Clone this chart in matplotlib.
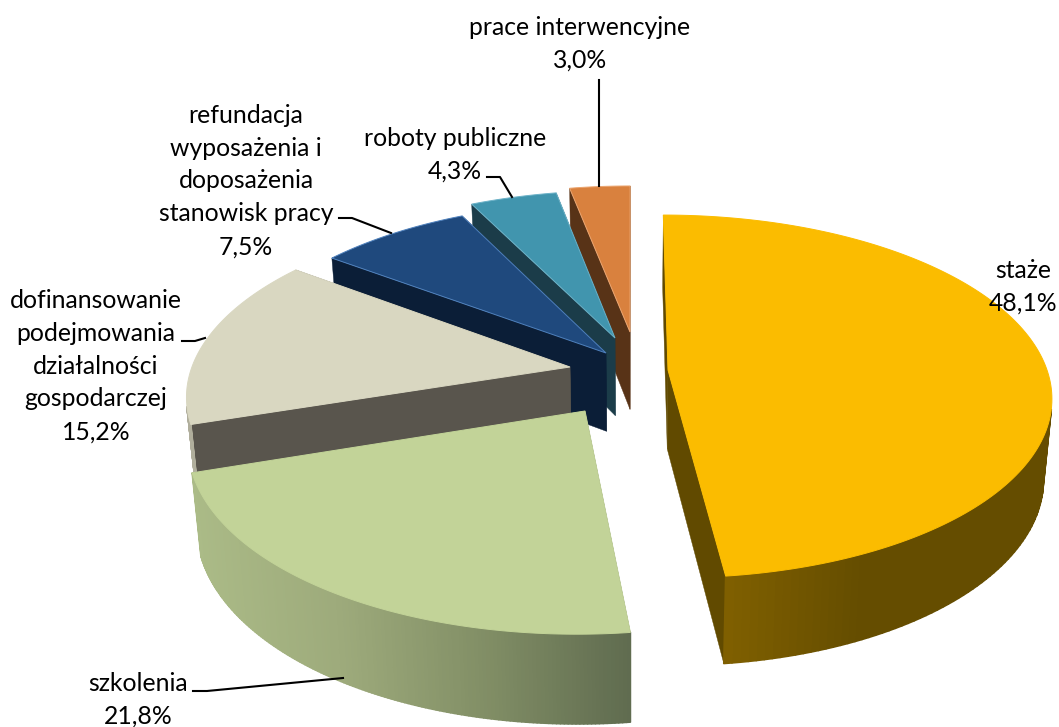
import numpy as np
from matplotlib import pyplot as plt
from matplotlib.collections import PolyCollection
from matplotlib.colors import to_rgb

# order as in the chart, clockwise from 12 o'clock
names = ["staże", "szkolenia", "dofinansowanie\npodejmowania\ndziałalności\ngospodarczej",
         "refundacja\nwyposażenia i\ndoposażenia\nstanowisk pracy", "roboty publiczne", "prace interwencyjne"]
shares = [48.1, 21.8, 15.2, 7.5, 4.3, 3.0]

top_colors = ["#FBBC00", "#C2D398", "#D9D7C1", "#1F497D", "#4195AE", "#D9813E"]
side_colors = ["#614A00", "#5F6B4F", "#59554D", "#0B1E37", "#1B3C49", "#583317"]
edge_colors = ["#FBBC00", "#C2D398", "#D9D7C1", "#4F81BD", "#6CB2C8", "#EBA46E"]
# outer wall colours: (screen x, colour)
wall_stops = [
    [(725, "#806000"), (860, "#654D00"), (1060, "#654D00")],
    [(190, "#ABBB87"), (340, "#9DAA7B"), (480, "#828F66"), (632, "#5F6B4F")],
    [(180, "#B0AE9C"), (620, "#B0AE9C")],
    [(320, "#0B1E37"), (620, "#0B1E37")],
    [(460, "#1B3C49"), (620, "#1B3C49")],
    [(560, "#583317"), (640, "#583317")],
]

# pixel position of each slice's tip after pulling it out of the pie
tip_x = [668, 585, 570, 606, 615, 630]
tip_y = [370, 411, 367, 353, 338, 332]

# camera of the tilted pie
cx, cy = 631, 370
A, B, k = 379, 177.5, 0.1455
depth = 79


def project(X, Y):
    s = 1 / (1 + k * Y)
    return cx + A * X * s, cy - B * Y * s, s


def unproject(x, y):
    t = (cy - y) / B
    Y = t / (1 - k * t)
    s = 1 / (1 + k * Y)
    return (x - cx) / (A * s), Y


def drop(x, y, s):
    return cx + (x - cx) * 0.98, y + depth * s ** 0.65


fig = plt.figure(figsize=(10.59, 7.27), dpi=100)
ax = fig.add_axes([0, 0, 1, 1])
ax.set_xlim(0, 1059)
ax.set_ylim(727, 0)
ax.axis("off")

total = sum(shares)
edges = np.cumsum([0] + shares) / total * 360

# back slices first so the front ones cover them
for i in [5, 4, 3, 2, 1, 0]:
    X0, Y0 = unproject(tip_x[i], tip_y[i])
    th = np.radians(np.linspace(edges[i], edges[i + 1], 160))
    x, y, s = project(X0 + np.sin(th), Y0 + np.cos(th))
    xb, yb = drop(x, y, s)
    xt, yt, st = project(X0, Y0)
    xtb, ytb = drop(xt, yt, st)

    # the two flat cut faces
    for j in [0, -1]:
        ax.fill([xt, x[j], xb[j], xtb], [yt, y[j], yb[j], ytb], color=side_colors[i], lw=0.3, zorder=i * -10)

    # outer wall, strips so that the shade can change with x; only the part turned to the viewer
    stops_x = [p[0] for p in wall_stops[i]]
    stops_c = np.array([to_rgb(p[1]) for p in wall_stops[i]])
    quads = []
    cols = []
    for n in range(len(th) - 1):
        cross = (x[n + 1] - x[n]) * (yb[n] - y[n]) - (y[n + 1] - y[n]) * (xb[n] - x[n])
        if cross >= 0:
            continue
        quads.append([(x[n], y[n]), (x[n + 1], y[n + 1]), (xb[n + 1], yb[n + 1]), (xb[n], yb[n])])
        mid = (x[n] + x[n + 1]) / 2
        cols.append([np.interp(mid, stops_x, stops_c[:, c]) for c in range(3)])
    ax.add_collection(PolyCollection(quads, facecolors=cols, edgecolors=cols, linewidths=1.2, zorder=i * -10 + 1))

    ax.fill(np.r_[xt, x], np.r_[yt, y], facecolor=top_colors[i], edgecolor=edge_colors[i], lw=0.7, zorder=i * -10 + 2)

# labels
label_x = [1023, 138, 96, 246, 455, 580]
label_y = [287, 700, 366, 181, 155, 44]
for i in range(len(names)):
    value = f"{shares[i]:.1f}%".replace(".", ",")
    ax.text(label_x[i], label_y[i], names[i] + "\n" + value, ha="center", va="center", fontsize=17.8,
            family="Lato", color="black", linespacing=1.52, zorder=5)

# leader lines
leaders = [
    ([193, 207, 343], [691, 691, 678]),
    ([182, 195, 205], [341, 341, 338]),
    ([339, 352, 391], [218, 218, 233]),
    ([487, 500, 512], [177, 177, 197]),
    ([599, 599], [80, 186]),
]
for lx, ly in leaders:
    ax.plot(lx, ly, color="black", lw=1.5, zorder=4)

fig.savefig("out.png", dpi=100)
